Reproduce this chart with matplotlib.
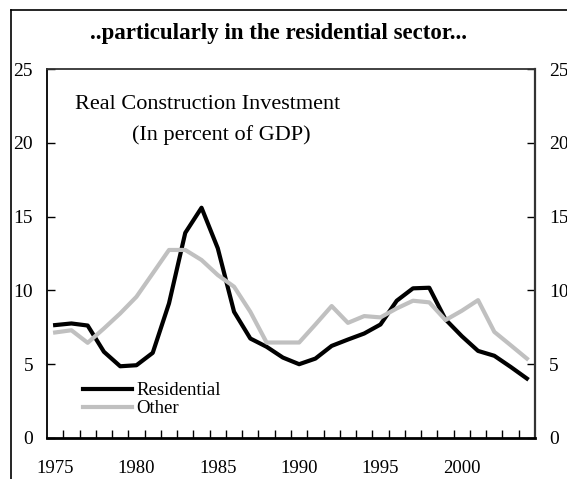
import numpy as np
import matplotlib
matplotlib.use("Agg")
import matplotlib.pyplot as plt
from matplotlib.lines import Line2D

plt.rcParams["font.family"] = ["Liberation Serif", "DejaVu Serif"]

years = list(range(1975, 2005))
residential = [7.65, 7.76, 7.62, 5.84, 4.86, 4.93, 5.77, 9.12, 13.9, 15.6,
               12.85, 8.55, 6.74, 6.18, 5.45, 5.0, 5.38, 6.24, 6.67, 7.08,
               7.69, 9.3, 10.14, 10.18, 8.03, 6.9, 5.9, 5.57, 4.82, 4.03]
other = [7.15, 7.3, 6.45, 7.42, 8.44, 9.57, 11.15, 12.74, 12.74, 12.06,
         11.04, 10.25, 8.55, 6.47, 6.47, 6.47, 7.69, 8.94, 7.8, 8.26,
         8.17, 8.78, 9.3, 9.19, 7.99, 8.62, 9.34, 7.19, 6.29, 5.38]
xlabels = [1975, 1980, 1985, 1990, 1995, 2000]
ylabels = [0, 5, 10, 15, 20, 25]

W, H = 567, 479
fig = plt.figure(figsize=(W / 100, H / 100), dpi=100)
ax = fig.add_axes([47 / W, 1 - 438 / H, 488 / W, 369 / H])

ax.plot(years, residential, color="black", lw=3, label="Residential")
ax.plot(years, other, color="#c0c0c0", lw=3, label="Other")

ax.set_xlim(1974.5, 2004.5)
ax.set_ylim(0, 25)

# category axis: labels at centres, ticks between years
ax.set_xticks(xlabels)
ax.set_xticklabels([str(x) for x in xlabels])
ax.set_xticks(np.arange(1975.5, 2004, 1), minor=True)
ax.tick_params(axis="x", which="major", length=0, pad=16, labelsize=13.5)
ax.tick_params(axis="x", which="minor", direction="in", length=6, width=1)

ax.set_yticks(ylabels)
ax.tick_params(axis="y", which="major", direction="in", length=6, width=1,
               pad=10, labelsize=14, left=True, right=True,
               labelleft=True, labelright=True)

ax.spines["bottom"].set_linewidth(2)
ax.spines["bottom"].set_color("black")
ax.spines["left"].set_linewidth(1.3)
ax.spines["left"].set_color("black")
ax.spines["right"].set_linewidth(1.6)
ax.spines["right"].set_color("#333333")
ax.spines["top"].set_linewidth(1.3)
ax.spines["top"].set_color("#333333")

ax.text(0.057, 0.905, "Real Construction Investment", transform=ax.transAxes,
        fontsize=16, ha="left", va="center")
ax.text(0.357, 0.822, "(In percent of GDP)", transform=ax.transAxes,
        fontsize=16, ha="center", va="center")

ax.legend(loc="upper left", bbox_to_anchor=(0.074, 0.151), frameon=False,
          fontsize=13.5, handlelength=2.6, handletextpad=0.25,
          labelspacing=0.05, borderpad=0, borderaxespad=0)

fig.text(278 / W, 1 - 34 / H, "..particularly in the residential sector...",
         fontsize=16.5, fontweight="bold", ha="center", va="center")

# outer frame (left and top edges only visible)
fx, fy = 11 / W, 1 - 10 / H
fig.add_artist(Line2D([fx, fx], [0, fy], color="black", lw=1.2))
fig.add_artist(Line2D([fx, 1], [fy, fy], color="black", lw=1.2))

fig.savefig("out.png", dpi=100)
